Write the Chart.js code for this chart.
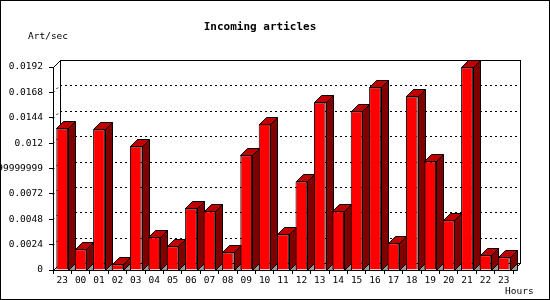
<!DOCTYPE html>
<html>
<head>
<meta charset="utf-8">
<script src="https://cdn.jsdelivr.net/npm/chart.js@4/dist/chart.umd.min.js"></script>
<style>
  body { margin: 0; background: #fff; }
  canvas { display: block; }
</style>
</head>
<body>
<canvas id="chart" width="550" height="300"></canvas>
<script>
const hours = ['23', '00', '01', '02', '03', '04', '05', '06', '07', '08', '09', '10', '11',
  '12', '13', '14', '15', '16', '17', '18', '19', '20', '21', '22', '23'];

const artPerSec = [0.0134, 0.00196, 0.0133, 0.00054, 0.0117, 0.0031, 0.00224, 0.00583, 0.00555,
  0.00167, 0.01084, 0.01383, 0.00337, 0.00838, 0.01585, 0.00555, 0.0150, 0.01727, 0.00252,
  0.01642, 0.01027, 0.0047, 0.01916, 0.00139, 0.0012];

const tickValues = [0, 0.0024, 0.0048, 0.0072, 0.0096, 0.012, 0.0144, 0.0168, 0.0192];
const tickLabels = ['0', '0.0024', '0.0048', '0.0072', '0.00959999999999', '0.012', '0.0144', '0.0168', '0.0192'];

const depth = 7;
const mono = '"DejaVu Sans Mono", "Liberation Mono", monospace';

const line = function(ctx, x1, y1, x2, y2) {
  ctx.beginPath();
  ctx.moveTo(x1, y1);
  ctx.lineTo(x2, y2);
  ctx.stroke();
}

const poly = function(ctx, pts, fill) {
  ctx.beginPath();
  ctx.moveTo(pts[0][0], pts[0][1]);
  pts.slice(1).forEach(p => ctx.lineTo(p[0], p[1]));
  ctx.closePath();
  ctx.fillStyle = fill;
  ctx.fill();
  ctx.stroke();
}

// back wall, dotted grid and the 3d sides of the bars (fronts are drawn by chart.js on top)
const box3d = {
  id: 'box3d',
  beforeDatasetsDraw(chart) {
    const ctx = chart.ctx;
    const a = chart.chartArea;
    const y = chart.scales.y;
    ctx.save();
    ctx.strokeStyle = '#000';
    ctx.lineWidth = 1;

    // grid on back wall and left wall
    ctx.setLineDash([2, 3]);
    tickValues.forEach((v, i) => {
      if (i === 0 || i === tickValues.length - 1) return;
      const py = Math.round(y.getPixelForValue(v)) + 0.5;
      line(ctx, a.left + depth, py - depth, a.right + depth, py - depth);
      line(ctx, a.left, py, a.left + depth, py - depth);
    });
    ctx.setLineDash([]);

    // back wall outline
    ctx.strokeRect(Math.round(a.left + depth) + 0.5, Math.round(a.top - depth) + 0.5,
      Math.round(a.right - a.left), Math.round(a.bottom - a.top));
    line(ctx, a.left + 0.5, a.top + 0.5, a.left + depth + 0.5, a.top - depth + 0.5);
    line(ctx, a.left + 0.5, a.bottom + 0.5, a.left + depth + 0.5, a.bottom - depth + 0.5);
    line(ctx, a.right + 0.5, a.bottom + 0.5, a.right + depth + 0.5, a.bottom - depth + 0.5);

    chart.getDatasetMeta(0).data.forEach(bar => {
      const r = Math.round(bar.x + bar.width / 2) + 0.5;
      const l = Math.round(bar.x - bar.width / 2) + 0.5;
      const top = Math.round(bar.y) + 0.5;
      const base = Math.round(bar.base) + 0.5;
      // floor shadow
      poly(ctx, [[r, base], [r + depth, base - depth], [r + depth, base]], '#999999');
      // side
      poly(ctx, [[r, top], [r + depth, top - depth], [r + depth, base - depth], [r, base]], '#800000');
      // top
      poly(ctx, [[l, top], [l + depth, top - depth], [r + depth, top - depth], [r, top]], '#c00000');
    });
    ctx.restore();
  },
  afterDraw(chart) {
    const ctx = chart.ctx;
    ctx.save();
    ctx.fillStyle = '#000';
    ctx.textBaseline = 'middle';
    ctx.font = 'bold 11px ' + mono;
    ctx.textAlign = 'center';
    ctx.fillText('Incoming articles', 260, 27);
    ctx.font = '9.5px ' + mono;
    ctx.textAlign = 'left';
    ctx.fillText('Art/sec', 28, 37);
    ctx.fillText('Hours', 505, 292);
    ctx.strokeStyle = '#000';
    ctx.strokeRect(0.5, 0.5, 549, 299);
    ctx.restore();
  }
};

const ctx = document.getElementById('chart').getContext('2d');
const chart = new Chart(ctx, {
  type: 'bar',
  data: {
    labels: hours,
    datasets: [{
      data: artPerSec,
      backgroundColor: '#ff0000',
      borderColor: '#000000',
      borderWidth: 1,
      barPercentage: 0.64,
      categoryPercentage: 1
    }]
  },
  options: {
    responsive: false,
    animation: false,
    devicePixelRatio: 1,
    layout: { padding: { left: 0, top: 67, right: 37, bottom: 0 } },
    plugins: { legend: { display: false }, title: { display: false }, tooltip: { enabled: false } },
    scales: {
      x: {
        grid: { offset: true, drawOnChartArea: false, color: '#000', tickLength: 4 },
        border: { color: '#000' },
        ticks: { color: '#000', font: { family: mono, size: 9.5 }, padding: 1, autoSkip: false, maxRotation: 0 },
        afterFit(scale) { scale.height = 30; }
      },
      y: {
        min: 0,
        max: 0.0192,
        grid: { drawOnChartArea: false, color: '#000', tickLength: 4 },
        border: { color: '#000' },
        ticks: {
          color: '#000',
          font: { family: mono, size: 9.5 },
          padding: 6,
          autoSkip: false,
          callback: (v, i) => tickLabels[i]
        },
        afterBuildTicks(scale) { scale.ticks = tickValues.map(v => ({ value: v })); },
        afterFit(scale) { scale.width = 53; }
      }
    }
  },
  plugins: [box3d]
});
</script>
</body>
</html>
